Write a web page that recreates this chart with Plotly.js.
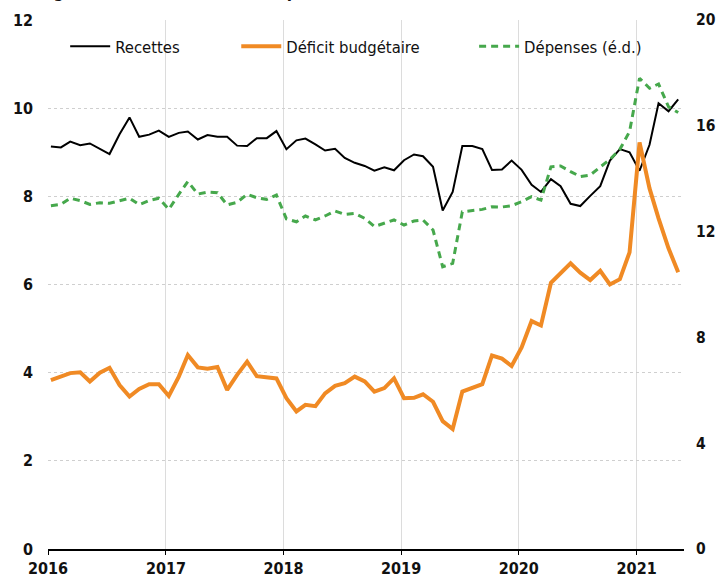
<!DOCTYPE html>
<html>
<head>
<meta charset="utf-8">
<script src="https://cdn.plot.ly/plotly-3.0.1.min.js"></script>
<style>html,body{margin:0;padding:0;background:#fff;}#chart{width:716px;height:578px;}</style>
</head>
<body>
<div id="chart"></div>
<script>
const months = [
"2016-01","2016-02","2016-03","2016-04","2016-05","2016-06","2016-07","2016-08","2016-09","2016-10","2016-11","2016-12",
"2017-01","2017-02","2017-03","2017-04","2017-05","2017-06","2017-07","2017-08","2017-09","2017-10","2017-11","2017-12",
"2018-01","2018-02","2018-03","2018-04","2018-05","2018-06","2018-07","2018-08","2018-09","2018-10","2018-11","2018-12",
"2019-01","2019-02","2019-03","2019-04","2019-05","2019-06","2019-07","2019-08","2019-09","2019-10","2019-11","2019-12",
"2020-01","2020-02","2020-03","2020-04","2020-05","2020-06","2020-07","2020-08","2020-09","2020-10","2020-11","2020-12",
"2021-01","2021-02","2021-03","2021-04","2021-05"];

const recettes = [
9.13,9.11,9.24,9.16,9.20,9.08,8.96,9.41,9.79,9.35,9.40,9.49,
9.35,9.44,9.47,9.29,9.39,9.35,9.35,9.15,9.14,9.32,9.32,9.48,
9.07,9.27,9.31,9.18,9.04,9.08,8.87,8.76,8.69,8.58,8.66,8.59,
8.82,8.95,8.91,8.67,7.68,8.10,9.14,9.14,9.07,8.60,8.61,8.81,
8.60,8.26,8.10,8.39,8.23,7.83,7.78,8.01,8.23,8.81,9.07,9.00,
8.58,9.17,10.11,9.93,10.20];

const deficit = [
3.83,3.91,3.99,4.01,3.80,4.00,4.11,3.72,3.46,3.63,3.74,3.74,
3.47,3.91,4.40,4.12,4.09,4.13,3.61,3.95,4.25,3.92,3.89,3.87,
3.42,3.12,3.27,3.24,3.53,3.70,3.76,3.91,3.80,3.57,3.65,3.87,
3.42,3.43,3.51,3.34,2.90,2.72,3.57,3.65,3.74,4.39,4.32,4.15,
4.57,5.17,5.07,6.04,6.25,6.48,6.27,6.10,6.31,6.00,6.12,6.73,
9.22,8.18,7.50,6.82,6.28];

const depenses = [
12.98,13.03,13.26,13.17,13.03,13.09,13.07,13.16,13.26,13.02,13.17,13.26,
12.84,13.41,13.89,13.42,13.49,13.47,13.01,13.11,13.41,13.28,13.22,13.38,
12.48,12.37,12.59,12.44,12.59,12.78,12.65,12.69,12.50,12.19,12.31,12.44,
12.25,12.40,12.44,12.06,10.67,10.80,12.75,12.79,12.84,12.94,12.93,12.98,
13.13,13.32,13.19,14.45,14.48,14.27,14.08,14.14,14.45,14.73,15.11,15.78,
17.80,17.42,17.58,16.72,16.50];

const seriesNames = ["Recettes", "Déficit budgétaire", "Dépenses (é.d.)"];
const leftTicks = [0, 2, 4, 6, 8, 10, 12];
const rightTicks = [0, 4, 8, 12, 16, 20];
const yearTicks = ["2016-01-01","2017-01-01","2018-01-01","2019-01-01","2020-01-01","2021-01-01"];
const yearLabels = ["2016","2017","2018","2019","2020","2021"];
const titleText = "Budget fédéral : recettes et dépenses (en centaines de milliards de dollars US)";

const x = months.map(m => m + "-10");
const FONT = "'DejaVu Sans Condensed', 'Liberation Sans Narrow', sans-serif";

const traces = [
  {x: x, y: recettes, name: seriesNames[0], type: "scatter", mode: "lines",
   line: {color: "#000000", width: 2}, yaxis: "y", legend: "legend"},
  {x: x, y: deficit, name: seriesNames[1], type: "scatter", mode: "lines",
   line: {color: "#F08A24", width: 4}, yaxis: "y", legend: "legend2"},
  {x: x, y: depenses, name: seriesNames[2], type: "scatter", mode: "lines",
   line: {color: "#46A84C", width: 3, dash: "7px,5px"}, yaxis: "y2", legend: "legend3"}
];

const legBase = {orientation: "h", yanchor: "middle", y: 0.95, xanchor: "left",
  bgcolor: "rgba(0,0,0,0)", font: {family: FONT, size: 16.5, color: "#111"}, itemwidth: 40};

const layout = {
  width: 716, height: 578,
  margin: {l: 48, r: 32, t: 20, b: 29},
  paper_bgcolor: "#ffffff", plot_bgcolor: "#ffffff",
  showlegend: true,
  legend: Object.assign({}, legBase, {x: 0.027}),
  legend2: Object.assign({}, legBase, {x: 0.296}),
  legend3: Object.assign({}, legBase, {x: 0.67}),
  xaxis: {
    type: "date", range: ["2016-01-01", "2021-05-28"],
    tickvals: yearTicks, ticktext: yearLabels,
    showgrid: true, gridcolor: "#dcdcdc", gridwidth: 1,
    showline: true, linecolor: "#000000", linewidth: 1.5,
    ticks: "outside", ticklen: 4, tickcolor: "#000000",
    tickfont: {family: FONT, size: 16, color: "#111", weight: "bold"},
    zeroline: false, fixedrange: true
  },
  yaxis: {
    range: [0, 12], tickvals: leftTicks,
    showgrid: true, gridcolor: "#cfcfcf", griddash: "dot", gridwidth: 1,
    zeroline: false, showline: false, ticks: "",
    ticklabelstandoff: 14,
    tickfont: {family: FONT, size: 16, color: "#111", weight: "bold"}
  },
  yaxis2: {
    range: [0, 20], tickvals: rightTicks, overlaying: "y", side: "right",
    showgrid: false, zeroline: false, showline: false, ticks: "",
    ticklabelstandoff: 11,
    tickfont: {family: FONT, size: 15.5, color: "#111", weight: "bold"}
  },
  annotations: [{
    text: titleText, xref: "paper", yref: "paper", x: 1.033, y: 1.0325,
    xanchor: "right", yanchor: "bottom", showarrow: false,
    font: {family: FONT, size: 17, color: "#111", weight: "bold"}
  }]
};

Plotly.newPlot("chart", traces, layout, {displayModeBar: false, staticPlot: true});
</script>
</body>
</html>
